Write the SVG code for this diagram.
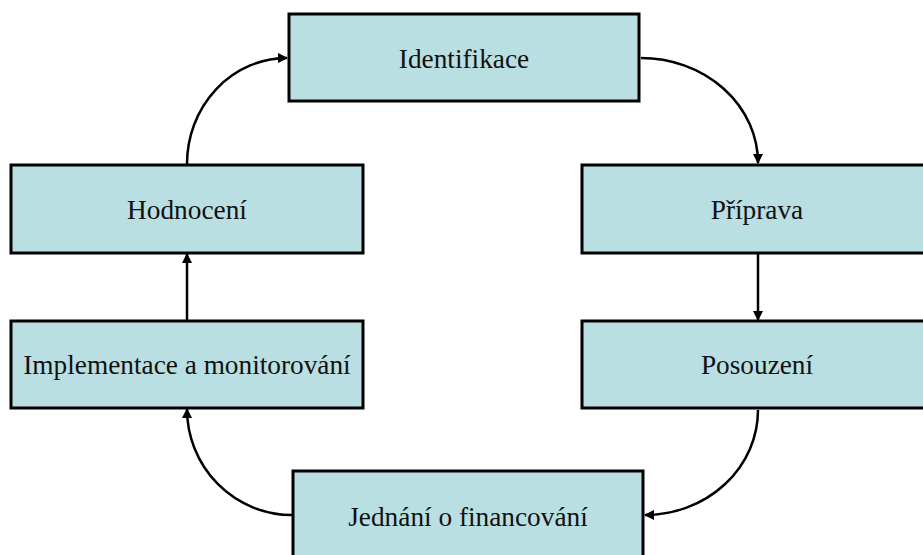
<svg xmlns="http://www.w3.org/2000/svg" width="923" height="555" viewBox="0 0 923 555">
  <style>
    .box { fill: #BADFE2; stroke: #000; stroke-width: 3; }
    .lbl { font-family: 'Liberation Serif', 'DejaVu Serif', serif; font-size: 27.3px; fill: #111; text-anchor: middle; }
    .conn { fill: none; stroke: #000; stroke-width: 2.5; marker-end: url(#arrow); }
  </style>
  <defs>
    <marker id="arrow" viewBox="0 0 10 10" refX="9" refY="5" markerWidth="4.2" markerHeight="4.2" orient="auto" markerUnits="strokeWidth">
      <path d="M0,0 L10,5 L0,10 z" fill="#000"/>
    </marker>
  </defs>
  <rect width="923" height="555" fill="#fff"/>

  <g id="connectors">
    <path class="conn" d="M187,164 A100 106 0 0 1 287,58"/>
    <path class="conn" d="M641,58 A117 105 0 0 1 758,163"/>
    <path class="conn" d="M758,254 L758,320"/>
    <path class="conn" d="M758,410 A113 105 0 0 1 645,515"/>
    <path class="conn" d="M292,515 A105 106 0 0 1 187,409"/>
    <path class="conn" d="M187,320 L187,254"/>
  </g>

  <g id="identifikace">
    <rect class="box" x="289" y="14" width="350" height="87"/>
    <text class="lbl" x="464" y="68">Identifikace</text>
  </g>
  <g id="priprava">
    <rect class="box" x="582" y="165" width="350" height="88"/>
    <text class="lbl" x="757" y="219">Příprava</text>
  </g>
  <g id="posouzeni">
    <rect class="box" x="582" y="321" width="350" height="87"/>
    <text class="lbl" x="757" y="374">Posouzení</text>
  </g>
  <g id="jednani">
    <rect class="box" x="293" y="471" width="350" height="90"/>
    <text class="lbl" x="468" y="526">Jednání o financování</text>
  </g>
  <g id="implementace">
    <rect class="box" x="11" y="321" width="352" height="87"/>
    <text class="lbl" x="187" y="374">Implementace a monitorování</text>
  </g>
  <g id="hodnoceni">
    <rect class="box" x="11" y="165" width="352" height="88"/>
    <text class="lbl" x="187" y="219">Hodnocení</text>
  </g>
</svg>
